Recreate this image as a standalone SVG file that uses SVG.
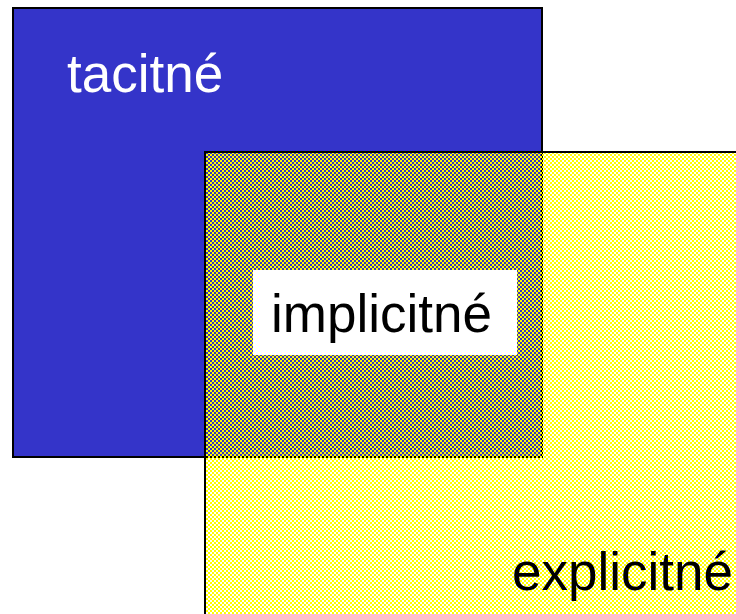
<svg xmlns="http://www.w3.org/2000/svg" width="736" height="614" viewBox="0 0 736 614">
<defs>
<pattern id="chk" patternUnits="userSpaceOnUse" x="0" y="0" width="4" height="4">
<rect x="0" y="0" width="2" height="2" fill="#FFFF00" shape-rendering="crispEdges"/>
<rect x="2" y="2" width="2" height="2" fill="#FFFF00" shape-rendering="crispEdges"/>
</pattern>
</defs>
<style>
.lbl{font-family:"Liberation Sans",Arial,sans-serif;font-size:53px}
</style>
<rect width="736" height="614" fill="#FFFFFF"/>
<g id="tacit">
<rect x="13" y="8" width="529" height="449" fill="#3434C9" stroke="#000000" stroke-width="2"/>
<text class="lbl" x="67" y="92" fill="#FFFFFF">tacitné</text>
</g>
<g id="explicit">
<rect x="205" y="152" width="540" height="470" fill="url(#chk)" stroke="#000000" stroke-width="2"/>
<text class="lbl" x="512" y="590" fill="#000000">explicitné</text>
</g>
<g id="implicit">
<rect x="253" y="270" width="264" height="85" fill="#FFFFFF"/>
<text class="lbl" x="271" y="332" fill="#000000">implicitné</text>
</g>
<g id="connectors"/>
</svg>
